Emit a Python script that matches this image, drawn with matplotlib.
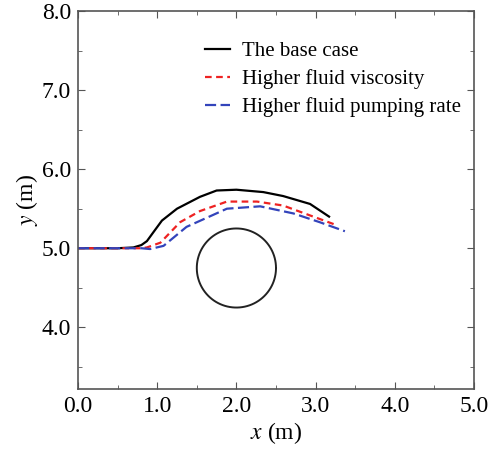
import matplotlib
matplotlib.use("Agg")
import matplotlib.pyplot as plt
import numpy as np
from matplotlib.ticker import MultipleLocator

plt.rcParams['font.family'] = ['Liberation Serif', 'DejaVu Serif']
plt.rcParams['mathtext.fontset'] = 'stix'

# Data
base_x = [0.0, 0.5, 0.70, 0.80, 0.87, 0.95, 1.06, 1.25, 1.54, 1.75, 2.0, 2.34, 2.59, 2.93, 3.17]
base_y = [5.0, 5.0, 5.01, 5.04, 5.09, 5.20, 5.35, 5.50, 5.65, 5.73, 5.74, 5.71, 5.66, 5.56, 5.40]

visc_x = [0.0, 0.5, 0.80, 0.87, 1.04, 1.29, 1.54, 1.88, 2.26, 2.59, 2.97, 3.27]
visc_y = [5.0, 5.0, 5.0, 5.01, 5.07, 5.33, 5.47, 5.59, 5.59, 5.54, 5.40, 5.29]

pump_x = [0.0, 0.5, 0.80, 0.91, 1.08, 1.37, 1.88, 2.30, 2.72, 3.05, 3.37]
pump_y = [5.0, 5.0, 5.0, 4.99, 5.03, 5.27, 5.50, 5.53, 5.44, 5.33, 5.215]

circle_center = (2.0, 4.75)
circle_radius = 0.5

labels = ["The base case", "Higher fluid viscosity", "Higher fluid pumping rate"]

fig = plt.figure(figsize=(4.88, 4.49), dpi=100)
ax = fig.add_axes([78/488, 1-389/449, (474-78)/488, (389-11)/449])

ax.plot(base_x, base_y, color='black', lw=1.6, label=labels[0])
ax.plot(visc_x, visc_y, color='#ee2222', lw=1.6, ls=(0, (3, 2)), label=labels[1])
ax.plot(pump_x, pump_y, color='#3344bb', lw=1.6, ls=(0, (5, 2)), label=labels[2])

t = np.linspace(0, 2*np.pi, 200)
ax.plot(circle_center[0] + circle_radius*np.cos(t), circle_center[1] + circle_radius*np.sin(t),
        color='#222222', lw=1.4)

ax.set_xlim(0, 5.0)
ax.set_ylim(3.22, 8.0)
ax.xaxis.set_major_locator(MultipleLocator(1.0))
ax.xaxis.set_minor_locator(MultipleLocator(0.5))
ax.yaxis.set_major_locator(MultipleLocator(1.0))
ax.yaxis.set_minor_locator(MultipleLocator(0.5))
ax.xaxis.set_major_formatter(matplotlib.ticker.FormatStrFormatter('%.1f'))
ax.yaxis.set_major_formatter(matplotlib.ticker.FormatStrFormatter('%.1f'))
ax.tick_params(which='both', direction='in', top=True, right=True, color='#555555')
ax.tick_params(which='major', length=5, labelsize=17, pad=5)
ax.tick_params(which='minor', length=3)
for s in ax.spines.values():
    s.set_color('#555555')
    s.set_linewidth(1.2)

ax.set_xlabel('$x$ (m)', fontsize=17, labelpad=2)
ax.set_ylabel('$y$ (m)', fontsize=17, labelpad=1)

leg = ax.legend(loc='upper right', bbox_to_anchor=(1.015, 0.968), frameon=False, fontsize=15,
                handlelength=1.2, handletextpad=0.6, labelspacing=0.38)

fig.savefig('out.png', dpi=100)
